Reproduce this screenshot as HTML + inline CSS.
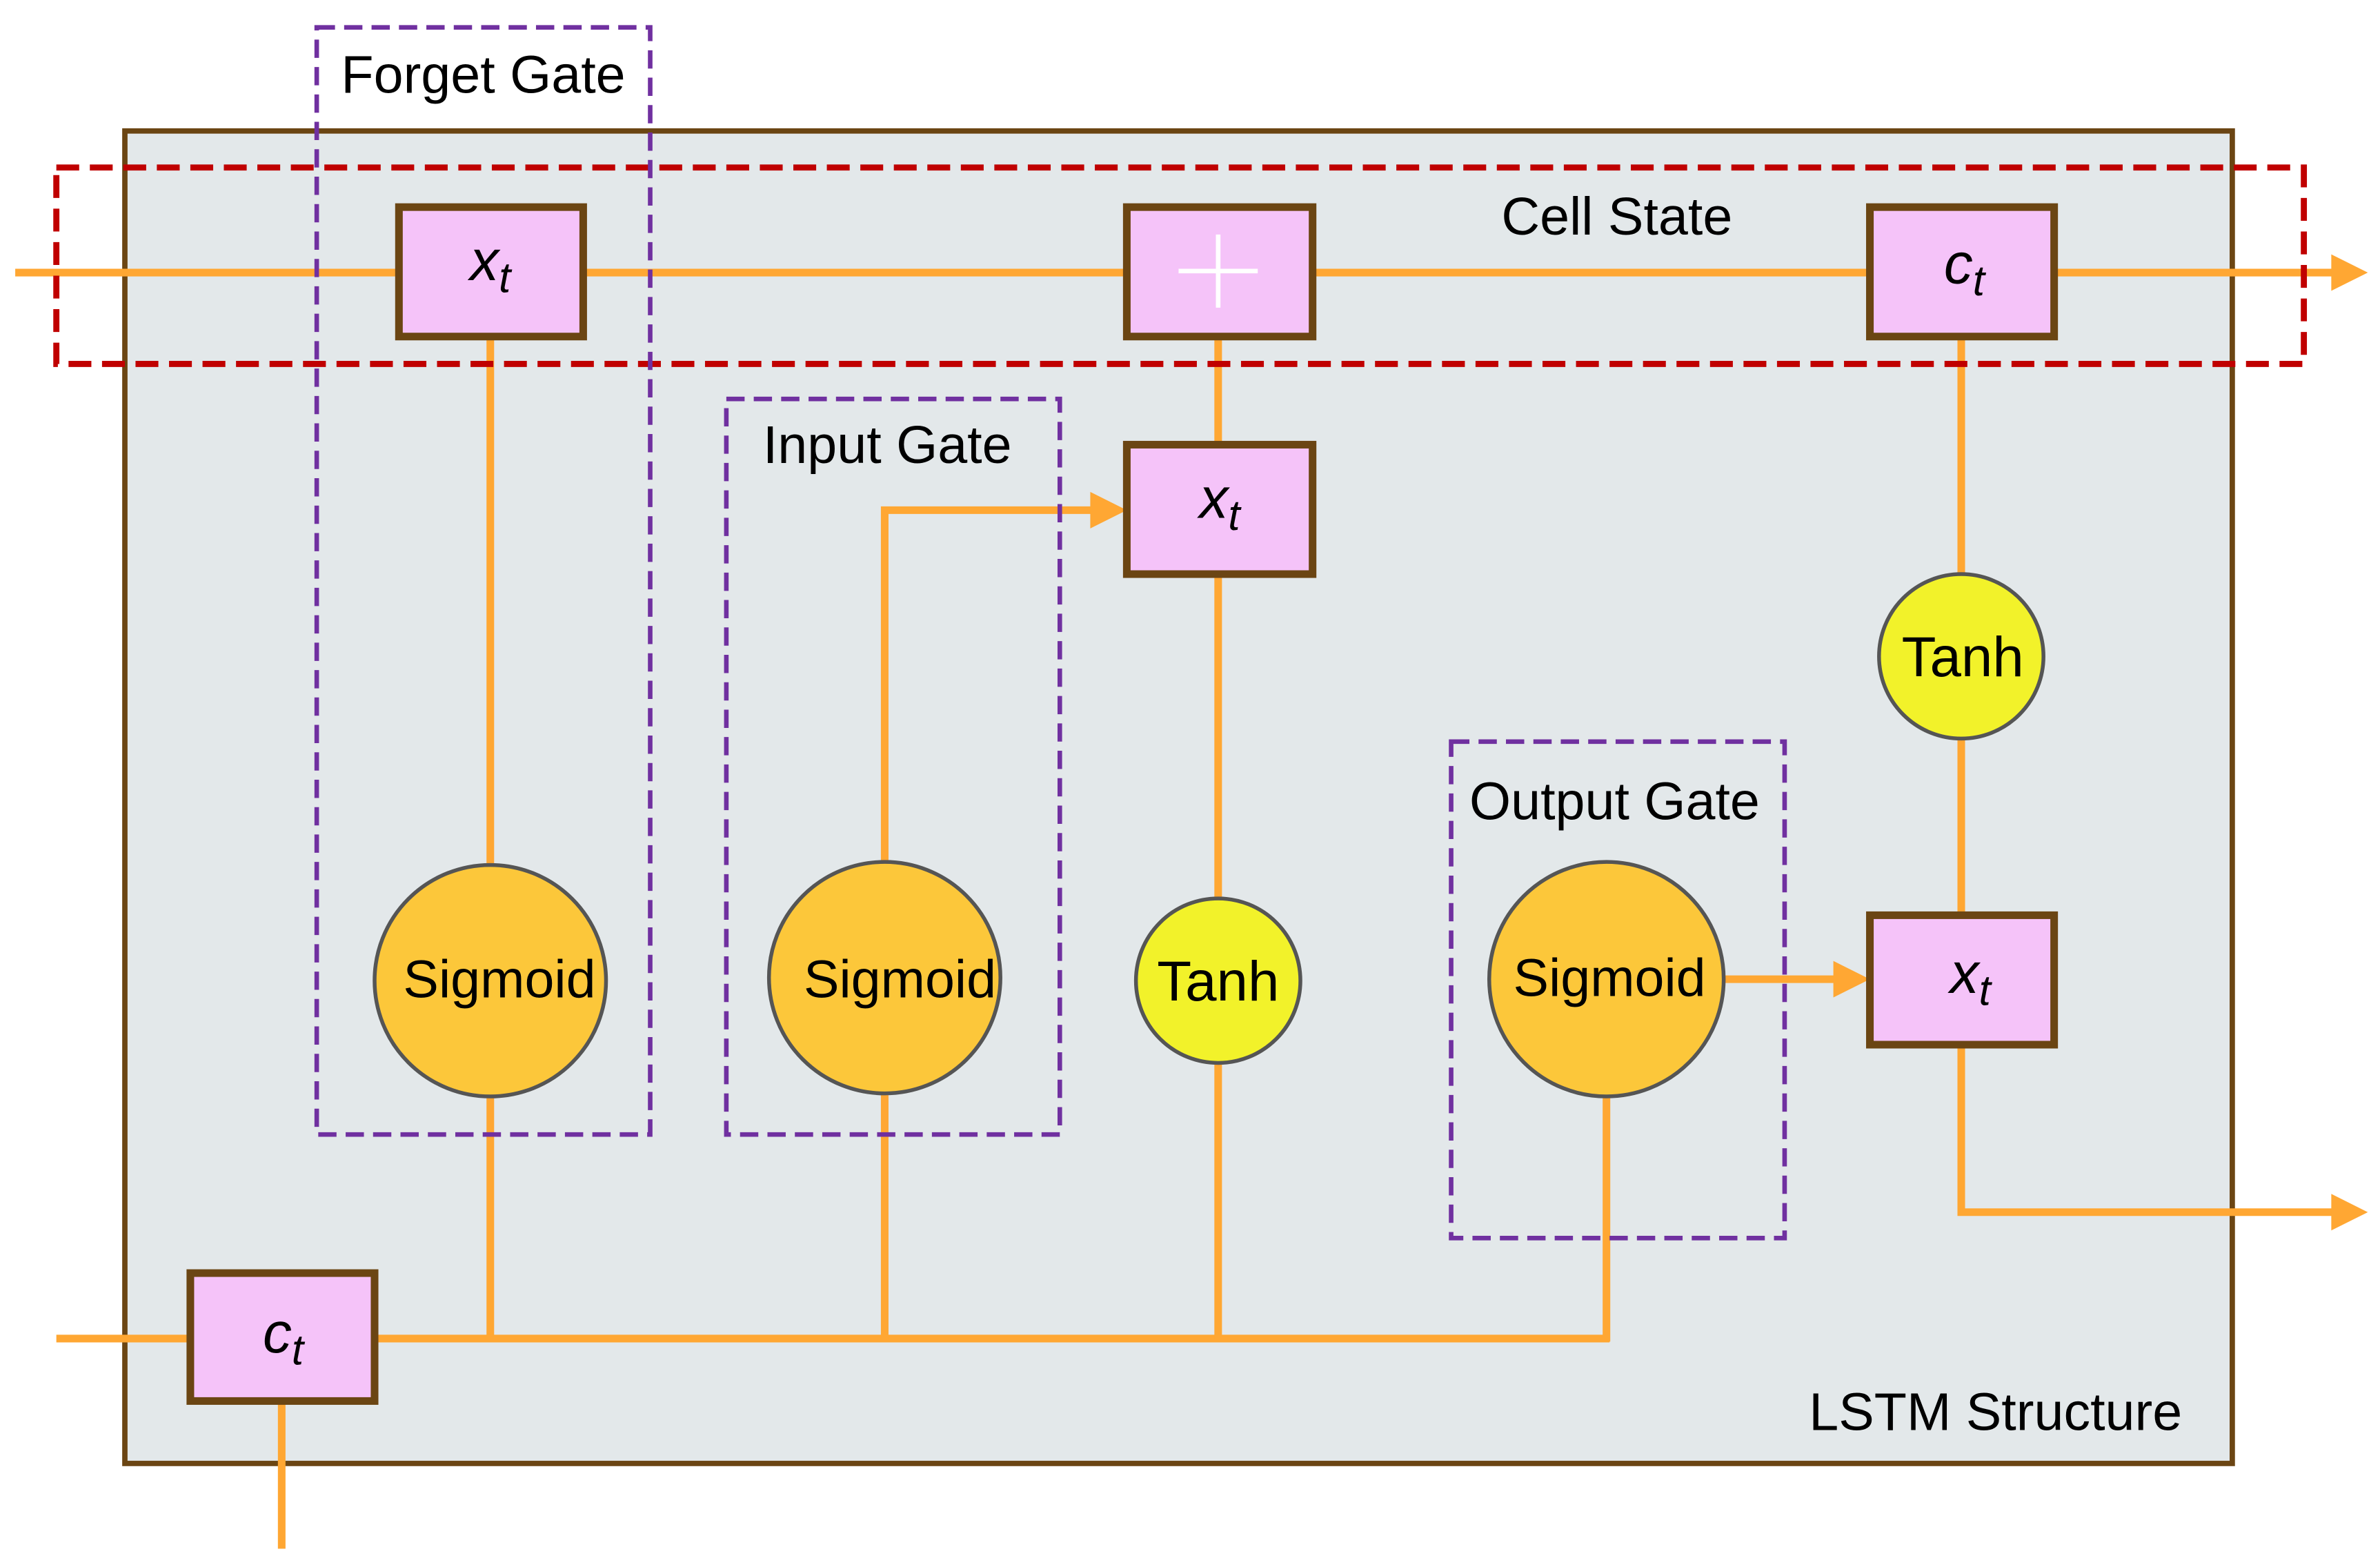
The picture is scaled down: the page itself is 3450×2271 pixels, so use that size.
<!DOCTYPE html>
<html><head><meta charset="utf-8"><style>
html,body{margin:0;padding:0;background:#fff;}
svg{display:block;}
text{font-family:"Liberation Sans",sans-serif;}
.m{font-family:"Liberation Serif",serif;font-style:italic;}
</style></head><body>
<svg width="3450" height="2271" viewBox="0 0 1563 1029" preserveAspectRatio="none" xmlns="http://www.w3.org/2000/svg">
<rect x="0" y="0" width="1563" height="1029" fill="#fff"/>
<rect x="82" y="86" width="1384" height="875" fill="#e3e8ea" stroke="#6b4513" stroke-width="3.5"/>
<g stroke="#ffa733" stroke-width="5" fill="none">
<line x1="10" y1="179" x2="1535" y2="179"/>
<line x1="322" y1="221" x2="322" y2="570"/>
<line x1="322" y1="718" x2="322" y2="879"/>
<line x1="37" y1="879" x2="125" y2="879"/>
<line x1="246" y1="879" x2="1057" y2="879"/>
<line x1="581" y1="716" x2="581" y2="879"/>
<line x1="800" y1="697" x2="800" y2="879"/>
<line x1="1055" y1="716" x2="1055" y2="881"/>
<polyline points="581,568 581,335 720,335"/>
<line x1="800" y1="221" x2="800" y2="292"/>
<line x1="800" y1="377" x2="800" y2="590"/>
<line x1="1130" y1="643" x2="1208" y2="643"/>
<line x1="1288" y1="221" x2="1288" y2="377"/>
<line x1="1288" y1="485" x2="1288" y2="601"/>
<polyline points="1288,686 1288,796 1535,796"/>
<line x1="185" y1="920" x2="185" y2="1017"/>
</g>
<g fill="#ffa733">
<polygon points="1555,179 1531,167 1531,191"/>
<polygon points="1555,796 1531,784 1531,808"/>
<polygon points="740,335 716,323 716,347"/>
<polygon points="1228,643 1204,631 1204,655"/>
</g>
<rect x="37" y="110" width="1476" height="129" fill="none" stroke="#c00000" stroke-width="4" stroke-dasharray="15,7"/>
<rect x="208" y="18" width="219" height="727" fill="none" stroke="#7030a0" stroke-width="3" stroke-dasharray="12,6"/>
<rect x="477" y="262" width="219" height="483" fill="none" stroke="#7030a0" stroke-width="3" stroke-dasharray="12,6"/>
<rect x="953" y="487" width="219" height="326" fill="none" stroke="#7030a0" stroke-width="3" stroke-dasharray="12,6"/>
<g fill="#f5c3f9" stroke="#6b4513" stroke-width="5">
<rect x="262" y="136" width="121" height="85"/>
<rect x="740" y="136" width="122" height="85"/>
<rect x="1228" y="136" width="121" height="85"/>
<rect x="740" y="292" width="122" height="85"/>
<rect x="1228" y="601" width="121" height="85"/>
<rect x="125" y="836" width="121" height="84"/>
</g>
<g stroke="#fff" stroke-width="3"><line x1="774" y1="178" x2="826" y2="178"/><line x1="800" y1="154" x2="800" y2="202"/></g>
<g fill="#fcc73a" stroke="#555" stroke-width="2.5">
<circle cx="322" cy="644" r="76"/>
<circle cx="581" cy="642" r="76"/>
<circle cx="1055" cy="643" r="77"/>
</g>
<g fill="#f2f22a" stroke="#555" stroke-width="2.5">
<circle cx="800" cy="644" r="54"/>
<circle cx="1288" cy="431" r="54"/>
</g>
<g font-size="35" text-anchor="middle" fill="#000">
<text x="328" y="655">Sigmoid</text>
<text x="591" y="655">Sigmoid</text>
<text x="1057" y="654">Sigmoid</text>
<text x="800" y="657" font-size="37">Tanh</text>
<text x="1289" y="444" font-size="37">Tanh</text>
</g>
<g font-size="35" fill="#000">
<text x="224" y="61">Forget Gate</text>
<text x="501" y="304">Input Gate</text>
<text x="965" y="538">Output Gate</text>
<text x="986" y="154">Cell State</text>
<text x="1188" y="939">LSTM Structure</text>
</g>
<g class="m" font-size="38" fill="#000" text-anchor="middle">
<text x="322" y="184">x<tspan font-size="28" dy="8">t</tspan></text>
<text x="801" y="340">x<tspan font-size="28" dy="8">t</tspan></text>
<text x="1290" y="186">c<tspan font-size="28" dy="8">t</tspan></text>
<text x="1294" y="652">x<tspan font-size="28" dy="8">t</tspan></text>
<text x="186" y="888">c<tspan font-size="28" dy="8">t</tspan></text>
</g>
</svg>
</body></html>
